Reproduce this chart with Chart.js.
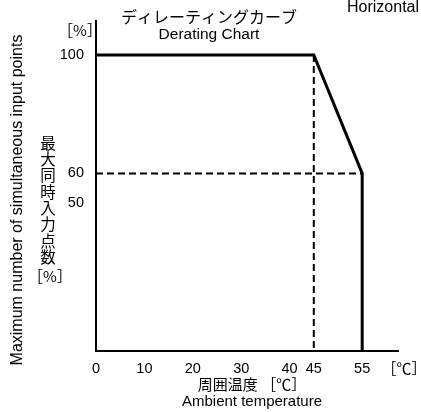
<!DOCTYPE html>
<html>
<head>
<meta charset="utf-8">
<script src="https://cdn.jsdelivr.net/npm/chart.js@4"></script>
<style>
  html, body { margin: 0; padding: 0; background: #fff; }
  #wrap { width: 421px; height: 412px; position: relative; }
</style>
</head>
<body>
<div id="wrap"><canvas id="canvas"></canvas></div>
<script>
// derating curve data
const curveX = [0, 45, 55, 55];
const curveY = [100, 100, 60, 0];
// dashed guide lines
const guide45X = [45, 45];
const guide45Y = [100, 0];
const guide60X = [0, 55];
const guide60Y = [60, 60];
// tick labels
const xTicks = [0, 10, 20, 30, 40, 45, 55];
const yTicks = [50, 60, 100];

const EN = '"Liberation Sans", Arial, sans-serif';
const JP = '"Noto Sans CJK JP", sans-serif';

function toPoints(xs, ys) {
  return xs.map(function (x, i) { return { x: x, y: ys[i] }; });
}

// texts around the plot
const labelsPlugin = {
  id: 'labels',
  afterDraw: function (chart) {
    const ctx = chart.ctx;
    const area = chart.chartArea;
    ctx.save();
    ctx.fillStyle = '#000';
    ctx.textBaseline = 'middle';

    // title
    ctx.textAlign = 'center';
    ctx.font = '16px ' + JP;
    ctx.fillText('ディレーティングカーブ', 209, 17);
    ctx.font = '15.5px ' + EN;
    ctx.fillText('Derating Chart', 209, 35);

    // cut off text at top right
    ctx.textAlign = 'left';
    ctx.font = '16px ' + EN;
    ctx.fillText('Horizontal', 347, 8);

    // unit labels
    ctx.textAlign = 'center';
    ctx.font = '15px ' + JP;
    ctx.fillText('［%］', 80, 30);
    ctx.fillText('［℃］', 404, 368);

    // x axis titles
    const cx = (area.left + area.right) / 2;
    ctx.font = '15px ' + JP;
    ctx.fillText('周囲温度 ［℃］', cx + 5, 384);
    ctx.font = '15px ' + EN;
    ctx.fillText('Ambient temperature', cx + 5, 402);

    // vertical japanese y title
    ctx.font = '15.5px ' + JP;
    const chars = '最大同時入力点数'.split('');
    chars.forEach(function (c, i) {
      ctx.fillText(c, 48, 143 + i * 16.3);
    });
    ctx.font = '15px ' + JP;
    ctx.fillText('［%］', 50, 276);

    // rotated english y title
    ctx.translate(18, 200);
    ctx.rotate(-Math.PI / 2);
    ctx.font = '16px ' + EN;
    ctx.fillText('Maximum number of simultaneous input points', 0, 0);
    ctx.restore();
  }
};

const data = {
  datasets: [
    {
      label: 'Derating',
      data: toPoints(curveX, curveY),
      borderColor: '#000',
      borderWidth: 3,
      pointRadius: 0,
      fill: false,
      tension: 0,
      order: 0
    },
    {
      label: '45',
      data: toPoints(guide45X, guide45Y),
      borderColor: '#000',
      borderWidth: 2,
      borderDash: [7, 4],
      pointRadius: 0,
      order: 1
    },
    {
      label: '60',
      data: toPoints(guide60X, guide60Y),
      borderColor: '#000',
      borderWidth: 2,
      borderDash: [7, 4],
      pointRadius: 0,
      order: 1
    }
  ]
};

const config = {
  type: 'line',
  data,
  options: {
    responsive: true,
    maintainAspectRatio: false,
    animation: false,
    layout: { padding: { left: 0, right: 23, top: 15, bottom: 0 } },
    plugins: {
      legend: { display: false },
      tooltip: { enabled: false }
    },
    scales: {
      x: {
        type: 'linear',
        min: 0,
        max: 62.4,
        afterBuildTicks: function (scale) {
          scale.ticks = xTicks.map(function (v) { return { value: v }; });
        },
        afterFit: function (scale) { scale.height = 61; },
        grid: { display: false, drawTicks: false },
        border: { display: true, color: '#000', width: 2 },
        ticks: {
          color: '#000',
          padding: 9,
          maxRotation: 0,
          autoSkip: false,
          font: { family: 'Liberation Sans', size: 14.5 }
        }
      },
      y: {
        type: 'linear',
        min: 0,
        max: 111.6,
        afterBuildTicks: function (scale) {
          scale.ticks = yTicks.map(function (v) { return { value: v }; });
        },
        afterFit: function (scale) { scale.width = 96; },
        grid: { display: false, drawTicks: false },
        border: { display: true, color: '#000', width: 2 },
        ticks: {
          color: '#000',
          padding: 12,
          autoSkip: false,
          font: { family: 'Liberation Sans', size: 14.5 }
        }
      }
    }
  },
  plugins: [labelsPlugin]
};

let myChart = new Chart(document.getElementById('canvas'), config);
</script>
</body>
</html>
